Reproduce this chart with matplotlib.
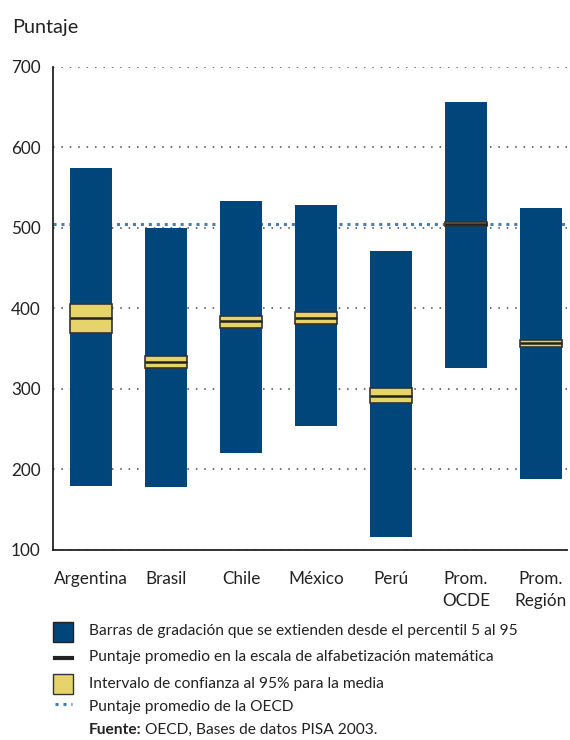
import numpy as np
import matplotlib
matplotlib.use('Agg')
import matplotlib.pyplot as plt
import matplotlib.patches as mpatches
from matplotlib.lines import Line2D

plt.rcParams['font.family'] = ['Lato', 'DejaVu Sans']

paises = ['Argentina', 'Brasil', 'Chile', 'México', 'Perú', 'Prom.\nOCDE', 'Prom.\nRegión']
p5 = [179, 178, 221, 254, 116, 326, 188]
p95 = [575, 500, 533, 528, 471, 656, 525]
ic_bajo = [370, 326, 376, 381, 283, 502, 352]
ic_alto = [406, 341, 391, 395, 301, 507, 361]
media = [388, 334, 384, 388, 291, 505, 357]
media_ocde = 505

azul = '#00467A'
amarillo = '#E6D46A'

fig = plt.figure(figsize=(5.7, 7.4), dpi=100)
ax = fig.add_axes([0.093, 0.2568, 0.902, 0.6527])

x = np.arange(len(paises))
ancho = 0.56
ax.bar(x, np.array(p95) - np.array(p5), bottom=p5, width=ancho, color=azul, zorder=2)
ax.bar(x, np.array(ic_alto) - np.array(ic_bajo), bottom=ic_bajo, width=ancho,
       color=amarillo, edgecolor='#333333', linewidth=1.2, zorder=3)
ax.hlines(media, x - ancho / 2, x + ancho / 2, color='#222222', linewidth=1.8, zorder=4)
ax.axhline(media_ocde, color='#4A7DB0', linestyle=(0, (1, 1.6)), linewidth=2.2, zorder=1.5)

ax.set_ylim(100, 700)
ax.set_xlim(-0.507, 6.35)
ax.set_yticks([100, 200, 300, 400, 500, 600, 700])
ax.yaxis.grid(True, linestyle=(0, (1, 4.5)), color='#444444', linewidth=1.1, zorder=0)
ax.set_axisbelow(True)
ax.set_xticks(x)
ax.set_xticklabels(paises, fontsize=12.3, color='#222222', linespacing=1.45, va='top')
ax.tick_params(axis='both', length=0, labelsize=12.3, colors='#222222')
ax.tick_params(axis='x', pad=15)
ax.tick_params(axis='y', pad=9)
for lado in ['top', 'right']:
    ax.spines[lado].set_visible(False)
for lado in ['left', 'bottom']:
    ax.spines[lado].set_color('#222222')
    ax.spines[lado].set_linewidth(1.3)

fig.text(12 / 570, 1 - 27 / 740, 'Puntaje', fontsize=14.3, color='#222222', va='center')

# leyenda
W, H = 570, 740
filas = [631, 657, 684, 707]
textos = ['Barras de gradación que se extienden desde el percentil 5 al 95',
          'Puntaje promedio en la escala de alfabetización matemática',
          'Intervalo de confianza al 95% para la media',
          'Puntaje promedio de la OECD']
for y, t in zip(filas, textos):
    fig.text(89 / W, 1 - y / H, t, fontsize=11.2, color='#222222', va='center')
fig.add_artist(mpatches.Rectangle((53 / W, 1 - 642 / H), 20 / W, 20 / H,
                                  facecolor=azul, edgecolor='#222222', linewidth=1, transform=fig.transFigure))
fig.add_artist(Line2D([55 / W, 72 / W], [1 - 658 / H, 1 - 658 / H], color='#222222', linewidth=3,
                      transform=fig.transFigure))
fig.add_artist(mpatches.Rectangle((53 / W, 1 - 694 / H), 20 / W, 20 / H,
                                  facecolor=amarillo, edgecolor='#333333', linewidth=1, transform=fig.transFigure))
fig.add_artist(Line2D([55 / W, 72 / W], [1 - 704 / H, 1 - 704 / H], color='#4A7DB0', linewidth=2.2,
                      linestyle=(0, (1, 1.6)), transform=fig.transFigure))
fig.text(89 / W, 1 - 730 / H, 'Fuente:', fontsize=11.2, fontweight='bold', color='#222222', va='center')
fig.text(145 / W, 1 - 730 / H, 'OECD, Bases de datos PISA 2003.', fontsize=11.2, color='#222222', va='center')

fig.savefig('out.png', dpi=100)
